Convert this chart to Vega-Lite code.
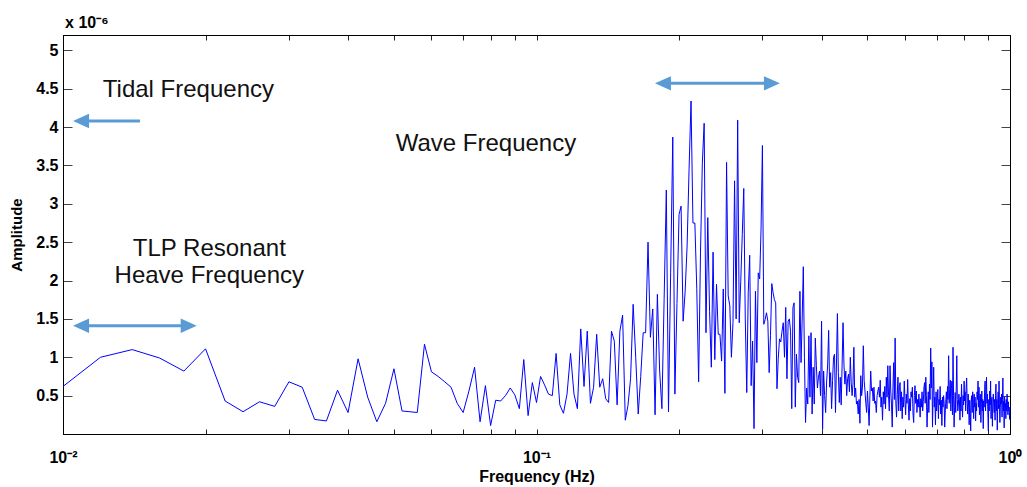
{
  "$schema": "https://vega.github.io/schema/vega-lite/v6.json",
  "width": 947,
  "height": 399,
  "autosize": "none",
  "padding": {"left": 63, "top": 35, "right": 17, "bottom": 53},
  "background": "#ffffff",
  "config": {
    "view": {"stroke": "#000000", "strokeWidth": 1},
    "font": "Liberation Sans"
  },
  "resolve": {"axis": {"x": "independent", "y": "independent"}},
  "layer": [
    {
      "data": {"values": [
        {"freq":0.010,"amp":0.62},{"freq":0.012,"amp":1.00},{"freq":0.014,"amp":1.10},{"freq":0.016,"amp":0.99},{"freq":0.018,"amp":0.82},
        {"freq":0.020,"amp":1.11},{"freq":0.022,"amp":0.43},{"freq":0.024,"amp":0.29},{"freq":0.026,"amp":0.42},{"freq":0.028,"amp":0.36},
        {"freq":0.030,"amp":0.68},{"freq":0.032,"amp":0.61},{"freq":0.034,"amp":0.19},{"freq":0.036,"amp":0.17},{"freq":0.038,"amp":0.57},
        {"freq":0.040,"amp":0.28},{"freq":0.042,"amp":0.98},{"freq":0.044,"amp":0.48},{"freq":0.046,"amp":0.16},{"freq":0.048,"amp":0.40},
        {"freq":0.050,"amp":0.85},{"freq":0.052,"amp":0.30},{"freq":0.054,"amp":0.29},{"freq":0.056,"amp":0.28},{"freq":0.058,"amp":1.17},
        {"freq":0.060,"amp":0.81},{"freq":0.062,"amp":0.75},{"freq":0.064,"amp":0.68},{"freq":0.066,"amp":0.61},{"freq":0.068,"amp":0.40},
        {"freq":0.070,"amp":0.28},{"freq":0.072,"amp":0.56},{"freq":0.074,"amp":0.87},{"freq":0.076,"amp":0.16},{"freq":0.078,"amp":0.63},
        {"freq":0.080,"amp":0.11},{"freq":0.082,"amp":0.44},{"freq":0.084,"amp":0.43},{"freq":0.086,"amp":0.50},{"freq":0.088,"amp":0.60},
        {"freq":0.090,"amp":0.51},{"freq":0.092,"amp":0.33},{"freq":0.094,"amp":0.97},{"freq":0.096,"amp":0.24},{"freq":0.098,"amp":0.67},
        {"freq":0.100,"amp":0.41},{"freq":0.102,"amp":0.75},{"freq":0.104,"amp":0.64},{"freq":0.106,"amp":0.52},{"freq":0.108,"amp":0.50},
        {"freq":0.110,"amp":1.05},{"freq":0.112,"amp":0.38},{"freq":0.114,"amp":0.27},{"freq":0.116,"amp":0.52},{"freq":0.118,"amp":1.05},
        {"freq":0.120,"amp":0.52},{"freq":0.122,"amp":0.33},{"freq":0.124,"amp":1.37},{"freq":0.126,"amp":0.62},{"freq":0.128,"amp":1.34},
        {"freq":0.130,"amp":0.40},{"freq":0.132,"amp":0.61},{"freq":0.134,"amp":1.30},{"freq":0.136,"amp":0.61},{"freq":0.138,"amp":0.72},
        {"freq":0.140,"amp":0.46},{"freq":0.142,"amp":0.41},{"freq":0.144,"amp":1.34},{"freq":0.146,"amp":1.21},{"freq":0.148,"amp":0.38},
        {"freq":0.150,"amp":1.34},{"freq":0.152,"amp":1.55},{"freq":0.154,"amp":0.18},{"freq":0.156,"amp":0.37},{"freq":0.158,"amp":0.72},
        {"freq":0.160,"amp":1.69},{"freq":0.162,"amp":1.00},{"freq":0.164,"amp":0.26},{"freq":0.166,"amp":0.75},{"freq":0.168,"amp":1.32},
        {"freq":0.170,"amp":1.32},{"freq":0.172,"amp":2.50},{"freq":0.174,"amp":1.26},{"freq":0.176,"amp":1.63},{"freq":0.178,"amp":0.25},
        {"freq":0.180,"amp":1.82},{"freq":0.182,"amp":0.82},{"freq":0.184,"amp":0.33},{"freq":0.186,"amp":1.75},{"freq":0.188,"amp":3.18},
        {"freq":0.190,"amp":0.29},{"freq":0.192,"amp":2.10},{"freq":0.194,"amp":3.87},{"freq":0.196,"amp":0.52},{"freq":0.198,"amp":1.70},
        {"freq":0.200,"amp":2.86},{"freq":0.202,"amp":2.97},{"freq":0.204,"amp":1.47},{"freq":0.206,"amp":1.85},{"freq":0.208,"amp":2.45},
        {"freq":0.210,"amp":3.45},{"freq":0.212,"amp":4.34},{"freq":0.214,"amp":2.75},{"freq":0.216,"amp":2.75},{"freq":0.218,"amp":1.90},
        {"freq":0.220,"amp":0.68},{"freq":0.222,"amp":2.36},{"freq":0.224,"amp":3.53},{"freq":0.226,"amp":4.05},{"freq":0.228,"amp":1.32},
        {"freq":0.230,"amp":2.82},{"freq":0.232,"amp":1.60},{"freq":0.234,"amp":0.87},{"freq":0.236,"amp":2.37},{"freq":0.238,"amp":0.97},
        {"freq":0.240,"amp":1.95},{"freq":0.242,"amp":1.30},{"freq":0.244,"amp":1.30},{"freq":0.246,"amp":0.95},{"freq":0.248,"amp":1.89},
        {"freq":0.250,"amp":0.53},{"freq":0.252,"amp":3.54},{"freq":0.254,"amp":1.80},{"freq":0.256,"amp":1.67},{"freq":0.258,"amp":1.00},
        {"freq":0.260,"amp":1.45},{"freq":0.262,"amp":3.30},{"freq":0.264,"amp":1.50},{"freq":0.266,"amp":4.09},{"freq":0.268,"amp":1.45},
        {"freq":0.270,"amp":1.99},{"freq":0.272,"amp":2.60},{"freq":0.274,"amp":3.20},{"freq":0.276,"amp":1.50},{"freq":0.278,"amp":0.54},
        {"freq":0.280,"amp":1.84},{"freq":0.282,"amp":2.33},{"freq":0.284,"amp":0.63},{"freq":0.286,"amp":1.21},{"freq":0.288,"amp":0.07},
        {"freq":0.290,"amp":1.86},{"freq":0.292,"amp":0.93},{"freq":0.294,"amp":2.10},{"freq":0.296,"amp":2.02},{"freq":0.298,"amp":2.67},
        {"freq":0.300,"amp":3.76},{"freq":0.302,"amp":1.43},{"freq":0.304,"amp":1.49},{"freq":0.306,"amp":1.58},{"freq":0.308,"amp":1.47},
        {"freq":0.310,"amp":0.80},{"freq":0.312,"amp":1.28},{"freq":0.314,"amp":1.96},{"freq":0.316,"amp":1.84},{"freq":0.318,"amp":1.75},
        {"freq":0.320,"amp":1.71},{"freq":0.322,"amp":0.59},{"freq":0.324,"amp":0.98},{"freq":0.326,"amp":1.24},{"freq":0.328,"amp":1.20},
        {"freq":0.330,"amp":1.34},{"freq":0.332,"amp":1.45},{"freq":0.334,"amp":1.00},{"freq":0.336,"amp":1.65},{"freq":0.338,"amp":0.72},
        {"freq":0.340,"amp":1.47},{"freq":0.342,"amp":1.50},{"freq":0.344,"amp":1.34},{"freq":0.346,"amp":0.33},{"freq":0.348,"amp":1.65},
        {"freq":0.350,"amp":1.71},{"freq":0.352,"amp":0.35},{"freq":0.354,"amp":1.04},{"freq":0.356,"amp":0.74},{"freq":0.358,"amp":0.67},
        {"freq":0.360,"amp":1.86},{"freq":0.362,"amp":0.93},{"freq":0.364,"amp":1.50},{"freq":0.366,"amp":2.18},{"freq":0.368,"amp":1.00},
        {"freq":0.370,"amp":0.15},{"freq":0.372,"amp":0.60},{"freq":0.374,"amp":0.39},{"freq":0.376,"amp":1.28},{"freq":0.378,"amp":0.48},
        {"freq":0.380,"amp":1.32},{"freq":0.382,"amp":0.26},{"freq":0.384,"amp":0.87},{"freq":0.386,"amp":0.39},{"freq":0.388,"amp":1.25},
        {"freq":0.390,"amp":0.89},{"freq":0.392,"amp":0.60},{"freq":0.394,"amp":0.74},{"freq":0.396,"amp":0.82},{"freq":0.398,"amp":0.50},
        {"freq":0.400,"amp":1.47},{"freq":0.402,"amp":0.06},{"freq":0.404,"amp":0.82},{"freq":0.406,"amp":0.50},{"freq":0.408,"amp":0.28},
        {"freq":0.410,"amp":0.69},{"freq":0.412,"amp":0.90},{"freq":0.414,"amp":1.35},{"freq":0.416,"amp":0.61},{"freq":0.418,"amp":0.80},
        {"freq":0.420,"amp":0.33},{"freq":0.422,"amp":0.70},{"freq":0.424,"amp":1.00},{"freq":0.426,"amp":1.04},{"freq":0.428,"amp":0.28},
        {"freq":0.430,"amp":0.90},{"freq":0.432,"amp":1.57},{"freq":0.434,"amp":0.80},{"freq":0.436,"amp":0.41},{"freq":0.438,"amp":0.74},
        {"freq":0.440,"amp":0.38},{"freq":0.442,"amp":0.90},{"freq":0.444,"amp":1.45},{"freq":0.446,"amp":0.90},{"freq":0.448,"amp":0.65},
        {"freq":0.450,"amp":0.82},{"freq":0.452,"amp":0.50},{"freq":0.454,"amp":0.72},{"freq":0.456,"amp":0.78},{"freq":0.458,"amp":0.55},
        {"freq":0.460,"amp":1.00},{"freq":0.462,"amp":0.67},{"freq":0.464,"amp":0.50},{"freq":0.466,"amp":0.65},{"freq":0.468,"amp":1.13},
        {"freq":0.470,"amp":0.48},{"freq":0.472,"amp":0.60},{"freq":0.474,"amp":0.39},{"freq":0.476,"amp":0.43},{"freq":0.478,"amp":0.26},
        {"freq":0.480,"amp":0.45},{"freq":0.482,"amp":0.14},{"freq":0.484,"amp":0.76},{"freq":0.486,"amp":0.50},{"freq":0.488,"amp":0.61},
        {"freq":0.490,"amp":1.15},{"freq":0.492,"amp":0.70},{"freq":0.494,"amp":0.56},{"freq":0.496,"amp":0.40},{"freq":0.498,"amp":0.28},
        {"freq":0.500,"amp":0.56},{"freq":0.502,"amp":0.35},{"freq":0.504,"amp":0.11},{"freq":0.506,"amp":0.50},{"freq":0.508,"amp":0.82},
        {"freq":0.510,"amp":0.56},{"freq":0.512,"amp":0.60},{"freq":0.514,"amp":0.43},{"freq":0.516,"amp":0.61},{"freq":0.518,"amp":0.40},
        {"freq":0.520,"amp":0.43},{"freq":0.522,"amp":0.28},{"freq":0.524,"amp":0.50},{"freq":0.526,"amp":0.56},{"freq":0.528,"amp":0.61},
        {"freq":0.530,"amp":0.48},{"freq":0.532,"amp":0.70},{"freq":0.534,"amp":0.35},{"freq":0.536,"amp":0.48},{"freq":0.538,"amp":0.18},
        {"freq":0.540,"amp":0.55},{"freq":0.542,"amp":0.39},{"freq":0.544,"amp":0.62},{"freq":0.546,"amp":0.33},{"freq":0.548,"amp":0.74},
        {"freq":0.550,"amp":0.48},{"freq":0.552,"amp":0.89},{"freq":0.554,"amp":0.50},{"freq":0.556,"amp":0.30},{"freq":0.558,"amp":0.89},
        {"freq":0.560,"amp":0.56},{"freq":0.562,"amp":0.38},{"freq":0.564,"amp":0.09},{"freq":0.566,"amp":0.60},{"freq":0.568,"amp":0.93},
        {"freq":0.570,"amp":0.45},{"freq":0.572,"amp":1.25},{"freq":0.574,"amp":0.40},{"freq":0.576,"amp":0.22},{"freq":0.578,"amp":0.52},
        {"freq":0.580,"amp":0.74},{"freq":0.582,"amp":0.30},{"freq":0.584,"amp":0.62},{"freq":0.586,"amp":0.67},{"freq":0.588,"amp":0.30},
        {"freq":0.590,"amp":0.55},{"freq":0.592,"amp":0.20},{"freq":0.594,"amp":0.48},{"freq":0.596,"amp":0.35},{"freq":0.598,"amp":0.69},
        {"freq":0.600,"amp":0.45},{"freq":0.602,"amp":0.25},{"freq":0.604,"amp":0.52},{"freq":0.606,"amp":0.40},{"freq":0.608,"amp":0.71},
        {"freq":0.610,"amp":0.38},{"freq":0.612,"amp":0.18},{"freq":0.614,"amp":0.46},{"freq":0.616,"amp":0.30},{"freq":0.618,"amp":0.55},
        {"freq":0.620,"amp":0.48},{"freq":0.622,"amp":0.61},{"freq":0.624,"amp":0.26},{"freq":0.626,"amp":0.15},{"freq":0.628,"amp":0.50},
        {"freq":0.630,"amp":0.63},{"freq":0.632,"amp":0.40},{"freq":0.634,"amp":0.56},{"freq":0.636,"amp":0.28},{"freq":0.638,"amp":0.45},
        {"freq":0.640,"amp":0.35},{"freq":0.642,"amp":0.52},{"freq":0.644,"amp":0.38},{"freq":0.646,"amp":0.22},{"freq":0.648,"amp":0.46},
        {"freq":0.650,"amp":0.35},{"freq":0.652,"amp":0.55},{"freq":0.654,"amp":0.30},{"freq":0.656,"amp":0.42},{"freq":0.658,"amp":0.60},
        {"freq":0.660,"amp":0.67},{"freq":0.662,"amp":0.40},{"freq":0.664,"amp":0.74},{"freq":0.666,"amp":0.50},{"freq":0.668,"amp":0.09},
        {"freq":0.670,"amp":0.35},{"freq":0.672,"amp":0.55},{"freq":0.674,"amp":0.28},{"freq":0.676,"amp":0.65},{"freq":0.678,"amp":0.45},
        {"freq":0.680,"amp":1.12},{"freq":0.682,"amp":0.60},{"freq":0.684,"amp":0.94},{"freq":0.686,"amp":0.09},{"freq":0.688,"amp":0.50},
        {"freq":0.690,"amp":0.87},{"freq":0.692,"amp":0.35},{"freq":0.694,"amp":0.48},{"freq":0.696,"amp":0.12},{"freq":0.698,"amp":0.55},
        {"freq":0.700,"amp":0.30},{"freq":0.702,"amp":0.43},{"freq":0.704,"amp":0.58},{"freq":0.706,"amp":0.20},{"freq":0.708,"amp":0.45},
        {"freq":0.710,"amp":0.38},{"freq":0.712,"amp":0.62},{"freq":0.714,"amp":0.26},{"freq":0.716,"amp":0.44},{"freq":0.718,"amp":0.11},
        {"freq":0.720,"amp":0.48},{"freq":0.722,"amp":0.35},{"freq":0.724,"amp":0.50},{"freq":0.726,"amp":0.40},{"freq":0.728,"amp":0.09},
        {"freq":0.730,"amp":0.30},{"freq":0.732,"amp":0.45},{"freq":0.734,"amp":0.55},{"freq":0.736,"amp":0.33},{"freq":0.738,"amp":0.62},
        {"freq":0.740,"amp":0.45},{"freq":0.742,"amp":1.02},{"freq":0.744,"amp":0.40},{"freq":0.746,"amp":0.58},{"freq":0.748,"amp":0.70},
        {"freq":0.750,"amp":0.30},{"freq":0.752,"amp":0.59},{"freq":0.754,"amp":0.69},{"freq":0.756,"amp":0.25},{"freq":0.758,"amp":1.13},
        {"freq":0.760,"amp":0.50},{"freq":0.762,"amp":0.09},{"freq":0.764,"amp":0.35},{"freq":0.766,"amp":0.54},{"freq":0.768,"amp":0.28},
        {"freq":0.770,"amp":0.60},{"freq":0.772,"amp":1.02},{"freq":0.774,"amp":0.45},{"freq":0.776,"amp":0.30},{"freq":0.778,"amp":0.39},
        {"freq":0.780,"amp":0.52},{"freq":0.782,"amp":0.43},{"freq":0.784,"amp":0.18},{"freq":0.786,"amp":0.48},{"freq":0.788,"amp":0.30},
        {"freq":0.790,"amp":0.65},{"freq":0.792,"amp":0.40},{"freq":0.794,"amp":0.22},{"freq":0.796,"amp":0.50},{"freq":0.798,"amp":0.38},
        {"freq":0.800,"amp":0.69},{"freq":0.802,"amp":0.43},{"freq":0.804,"amp":0.55},{"freq":0.806,"amp":0.30},{"freq":0.808,"amp":0.61},
        {"freq":0.810,"amp":0.73},{"freq":0.812,"amp":0.40},{"freq":0.814,"amp":0.26},{"freq":0.816,"amp":0.52},{"freq":0.818,"amp":0.35},
        {"freq":0.820,"amp":0.12},{"freq":0.822,"amp":0.44},{"freq":0.824,"amp":0.30},{"freq":0.826,"amp":0.04},{"freq":0.828,"amp":0.43},
        {"freq":0.830,"amp":0.50},{"freq":0.832,"amp":0.28},{"freq":0.834,"amp":0.55},{"freq":0.836,"amp":0.45},{"freq":0.838,"amp":0.20},
        {"freq":0.840,"amp":0.52},{"freq":0.842,"amp":0.35},{"freq":0.844,"amp":0.48},{"freq":0.846,"amp":0.17},{"freq":0.848,"amp":0.40},
        {"freq":0.850,"amp":0.30},{"freq":0.852,"amp":0.55},{"freq":0.854,"amp":0.45},{"freq":0.856,"amp":0.69},{"freq":0.858,"amp":0.35},
        {"freq":0.860,"amp":0.61},{"freq":0.862,"amp":0.25},{"freq":0.864,"amp":0.48},{"freq":0.866,"amp":0.52},{"freq":0.868,"amp":0.15},
        {"freq":0.870,"amp":0.40},{"freq":0.872,"amp":0.56},{"freq":0.874,"amp":0.30},{"freq":0.876,"amp":0.45},{"freq":0.878,"amp":0.07},
        {"freq":0.880,"amp":0.43},{"freq":0.882,"amp":0.35},{"freq":0.884,"amp":0.58},{"freq":0.886,"amp":0.69},{"freq":0.888,"amp":0.30},
        {"freq":0.890,"amp":0.50},{"freq":0.892,"amp":0.74},{"freq":0.894,"amp":0.40},{"freq":0.896,"amp":0.52},{"freq":0.898,"amp":0.26},
        {"freq":0.900,"amp":0.04},{"freq":0.902,"amp":0.45},{"freq":0.904,"amp":0.30},{"freq":0.906,"amp":0.56},{"freq":0.908,"amp":0.38},
        {"freq":0.910,"amp":0.69},{"freq":0.912,"amp":0.20},{"freq":0.914,"amp":0.43},{"freq":0.916,"amp":0.48},{"freq":0.918,"amp":0.10},
        {"freq":0.920,"amp":0.35},{"freq":0.922,"amp":0.52},{"freq":0.924,"amp":0.40},{"freq":0.926,"amp":0.28},{"freq":0.928,"amp":0.45},
        {"freq":0.930,"amp":0.18},{"freq":0.932,"amp":0.50},{"freq":0.934,"amp":0.65},{"freq":0.936,"amp":0.30},{"freq":0.938,"amp":0.45},
        {"freq":0.940,"amp":0.05},{"freq":0.942,"amp":0.38},{"freq":0.944,"amp":0.55},{"freq":0.946,"amp":0.33},{"freq":0.948,"amp":0.69},
        {"freq":0.950,"amp":0.40},{"freq":0.952,"amp":0.15},{"freq":0.954,"amp":0.35},{"freq":0.956,"amp":0.48},{"freq":0.958,"amp":0.39},
        {"freq":0.960,"amp":0.52},{"freq":0.962,"amp":0.22},{"freq":0.964,"amp":0.45},{"freq":0.966,"amp":0.73},{"freq":0.968,"amp":0.30},
        {"freq":0.970,"amp":0.43},{"freq":0.972,"amp":0.08},{"freq":0.974,"amp":0.48},{"freq":0.976,"amp":0.35},{"freq":0.978,"amp":0.40},
        {"freq":0.980,"amp":0.20},{"freq":0.982,"amp":0.45},{"freq":0.984,"amp":0.30},{"freq":0.986,"amp":0.52},{"freq":0.988,"amp":0.38},
        {"freq":0.990,"amp":0.25},{"freq":0.992,"amp":0.42},{"freq":0.994,"amp":0.30},{"freq":0.996,"amp":0.35},{"freq":0.998,"amp":0.19},
        {"freq":1.000,"amp":0.30}
      ]},
      "layer": [
        {
          "mark": {"type": "line", "color": "#0000ff", "strokeWidth": 1, "clip": true},
          "encoding": {
            "x": {"field": "freq", "type": "quantitative",
              "scale": {"type": "log", "domain": [0.01, 1], "nice": false},
              "axis": {"orient": "bottom", "title": "Frequency (Hz)", "grid": false,
                "values": [0.01,0.02,0.03,0.04,0.05,0.06,0.07,0.08,0.09,0.1,0.2,0.3,0.4,0.5,0.6,0.7,0.8,0.9,1],
                "labelExpr": "abs(datum.value-0.01)<1e-9 ? '10⁻²' : abs(datum.value-0.1)<1e-9 ? '10⁻¹' : abs(datum.value-1)<1e-9 ? '10⁰' : ''",
                "labelFont": "Liberation Sans", "labelFontSize": 16, "labelFontWeight": "bold", "labelColor": "#000000",
                "labelBaseline": "alphabetic", "labelPadding": 33.6, "labelFlush": false, "labelOverlap": false, "labelBound": false,
                "tickSize": -5, "tickColor": "#222222", "tickWidth": 1,
                "domainColor": "#000000", "domainWidth": 1,
                "titleFont": "Liberation Sans", "titleFontSize": 16, "titleFontWeight": "bold", "titleColor": "#000000",
                "titleBaseline": "alphabetic", "titleY": 47}},
            "y": {"field": "amp", "type": "quantitative",
              "scale": {"domain": [0, 5.2], "nice": false, "zero": true},
              "axis": {"orient": "left", "title": "Amplitude", "grid": false,
                "values": [0.5,1,1.5,2,2.5,3,3.5,4,4.5,5], "format": ".1~f",
                "labelFont": "Liberation Sans", "labelFontSize": 16, "labelFontWeight": "bold", "labelColor": "#000000",
                "labelPadding": 14, "labelOverlap": false,
                "tickSize": -9, "tickColor": "#444444", "tickWidth": 1,
                "domainColor": "#000000", "domainWidth": 1,
                "titleFont": "Liberation Sans", "titleFontSize": 15, "titleFontWeight": "bold", "titleColor": "#000000",
                "titleBaseline": "alphabetic", "titleX": -42}}
          }
        },
        {
          "mark": {"type": "line", "opacity": 0},
          "encoding": {
            "x": {"field": "freq", "type": "quantitative",
              "axis": {"orient": "top", "title": null, "labels": false, "grid": false,
                "values": [0.01,0.02,0.03,0.04,0.05,0.06,0.07,0.08,0.09,0.1,0.2,0.3,0.4,0.5,0.6,0.7,0.8,0.9,1],
                "tickSize": -5, "tickColor": "#222222", "domainColor": "#000000"}},
            "y": {"field": "amp", "type": "quantitative",
              "axis": {"orient": "right", "title": null, "labels": false, "grid": false,
                "values": [0.5,1,1.5,2,2.5,3,3.5,4,4.5,5],
                "tickSize": -9, "tickColor": "#444444", "domainColor": "#000000"}}
          }
        }
      ]
    },
    {
      "data": {"values": [
        {"f1": 0.01102, "f2": 0.01454, "amp": 4.08},
        {"f1": 0.01102, "f2": 0.01825, "amp": 1.41},
        {"f1": 0.1868, "f2": 0.3113, "amp": 4.57}
      ]},
      "mark": {"type": "rule", "color": "#5b9bd5", "strokeWidth": 3},
      "encoding": {
        "x": {"field": "f1", "type": "quantitative", "axis": null},
        "x2": {"field": "f2"},
        "y": {"field": "amp", "type": "quantitative", "axis": null}
      }
    },
    {
      "data": {"values": [
        {"freq": 0.0105, "amp": 4.08, "dir": "left"},
        {"freq": 0.0105, "amp": 1.41, "dir": "left"},
        {"freq": 0.01916, "amp": 1.41, "dir": "right"},
        {"freq": 0.1779, "amp": 4.57, "dir": "left"},
        {"freq": 0.3267, "amp": 4.57, "dir": "right"}
      ]},
      "mark": {"type": "point", "filled": true, "color": "#5b9bd5", "opacity": 1, "size": 256, "strokeWidth": 0},
      "encoding": {
        "x": {"field": "freq", "type": "quantitative", "axis": null},
        "y": {"field": "amp", "type": "quantitative", "axis": null},
        "shape": {"field": "dir", "type": "nominal", "legend": null,
          "scale": {"domain": ["left", "right"], "range": ["M0,0L2,-0.9L2,0.9Z", "M0,0L-2,-0.9L-2,0.9Z"]}}
      }
    },
    {
      "data": {"values": [
        {"freq": 0.0184, "amp": 4.48, "label": "Tidal Frequency"},
        {"freq": 0.0782, "amp": 3.78, "label": "Wave Frequency"},
        {"freq": 0.02037, "amp": 2.41, "label": "TLP Resonant"},
        {"freq": 0.02037, "amp": 2.06, "label": "Heave Frequency"}
      ]},
      "mark": {"type": "text", "font": "Liberation Sans", "fontSize": 24, "align": "center", "baseline": "middle", "color": "#111111"},
      "encoding": {
        "x": {"field": "freq", "type": "quantitative", "axis": null},
        "y": {"field": "amp", "type": "quantitative", "axis": null},
        "text": {"field": "label"}
      }
    },
    {
      "data": {"values": [
        {"freq": 0.0101, "amp": 5.29, "label": "x 10⁻⁶"}
      ]},
      "mark": {"type": "text", "font": "Liberation Sans", "fontSize": 16, "fontWeight": "bold", "align": "left", "baseline": "alphabetic", "color": "#000000", "clip": false},
      "encoding": {
        "x": {"field": "freq", "type": "quantitative", "axis": null},
        "y": {"field": "amp", "type": "quantitative", "axis": null},
        "text": {"field": "label"}
      }
    }
  ]
}
